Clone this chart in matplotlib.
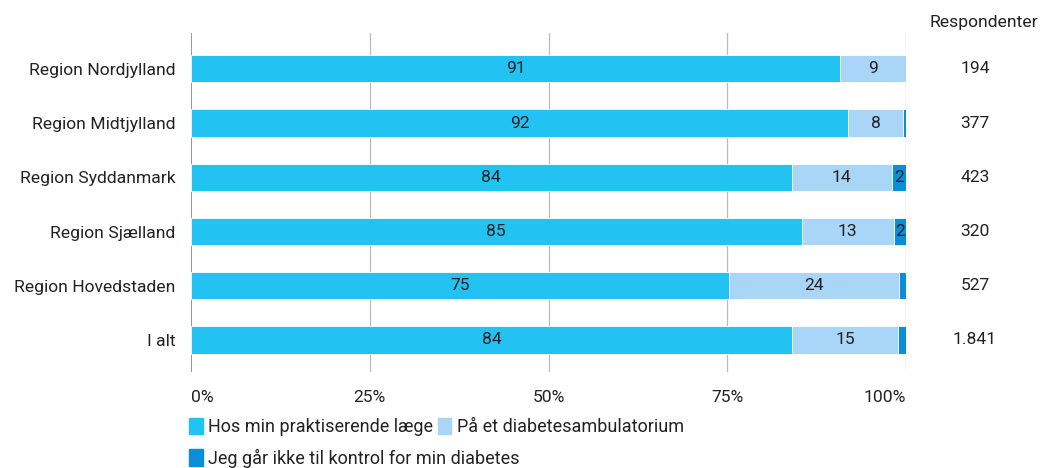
import matplotlib
matplotlib.use("Agg")
import matplotlib.pyplot as plt
from matplotlib.patches import Patch
import matplotlib.transforms as mtransforms
import numpy as np

plt.rcParams['font.family'] = ['Roboto', 'DejaVu Sans']

categories = ["Region Nordjylland", "Region Midtjylland", "Region Syddanmark",
              "Region Sjælland", "Region Hovedstaden", "I alt"]
praktiserende = [90.8, 91.9, 84.0, 85.4, 75.2, 84.1]
ambulatorium = [9.2, 7.7, 14.0, 12.9, 23.8, 14.8]
ingen_kontrol = [0.0, 0.4, 2.0, 1.7, 1.0, 1.1]
respondenter = ["194", "377", "423", "320", "527", "1.841"]
series_names = ["Hos min praktiserende læge", "På et diabetesambulatorium",
                "Jeg går ikke til kontrol for min diabetes"]
tick_vals = [0, 25, 50, 75, 100]
tick_labels = ["0%", "25%", "50%", "75%", "100%"]

colors = ["#22C3F3", "#A9D5F6", "#0A8ED6"]
text_color = "#222222"
fs = 12.6
fs_leg = 13.0

fig = plt.figure(figsize=(10.49, 4.68), dpi=100)
ax = fig.add_axes([191/1049, 1-372/468, (906-191)/1049, (372-33)/468])

y = np.arange(len(categories))
series = [praktiserende, ambulatorium, ingen_kontrol]
left = np.zeros(len(categories))
for vals, col in zip(series, colors):
    vals = np.array(vals)
    ax.barh(y, vals, left=left, height=0.5, color=col, edgecolor="white",
            linewidth=0.6, zorder=3)
    for yi, (l, v) in enumerate(zip(left, vals)):
        if round(v) >= 2:
            ax.text(l + v/2, yi, f"{round(v)}", ha="center", va="center",
                    fontsize=fs, color=text_color, zorder=4)
    left = left + vals

ax.set_xlim(0, 100)
ax.set_ylim(5.59, -0.66)
ax.set_yticks(y)
ax.set_yticklabels(categories, fontsize=fs, color=text_color)
ax.set_xticks(tick_vals)
ax.set_xticklabels(tick_labels, fontsize=fs, color=text_color)
xt = ax.get_xticklabels()
xt[0].set_horizontalalignment("left")
xt[-1].set_horizontalalignment("right")
ax.tick_params(axis='x', length=0, pad=13)
ax.tick_params(axis='y', length=0, pad=11)
for s in ax.spines.values():
    s.set_visible(False)
for tv in tick_vals:
    ax.axvline(tv, color="#888888" if tv == 0 else "#BBBBBB",
               linewidth=1.2 if tv == 0 else 0.9, zorder=1)

# Respondenter column
fig.text(984/1049, 1-22/468, "Respondenter", ha="center", va="center",
         fontsize=fs, color=text_color)
trans = mtransforms.blended_transform_factory(fig.transFigure, ax.transData)
for yi, r in enumerate(respondenter):
    ax.text(975/1049, yi, r, transform=trans, ha="center", va="center",
            fontsize=fs, color=text_color, clip_on=False)

handles = [Patch(facecolor=c, edgecolor=c) for c in colors]
leg1 = fig.legend(handles[:2], series_names[:2], ncol=2, frameon=False,
                  loc="center left", bbox_to_anchor=(182/1049, 1-427/468),
                  fontsize=fs_leg, handlelength=0.75, handleheight=1.05,
                  handletextpad=0.3, columnspacing=0.25, borderaxespad=0)
for t in leg1.get_texts():
    t.set_color(text_color)
leg2 = fig.legend(handles[2:], series_names[2:], frameon=False,
                  loc="center left", bbox_to_anchor=(182/1049, 1-458/468),
                  fontsize=fs_leg, handlelength=0.75, handleheight=1.05,
                  handletextpad=0.3, borderaxespad=0)
for t in leg2.get_texts():
    t.set_color(text_color)

fig.savefig("out.png", dpi=100)
